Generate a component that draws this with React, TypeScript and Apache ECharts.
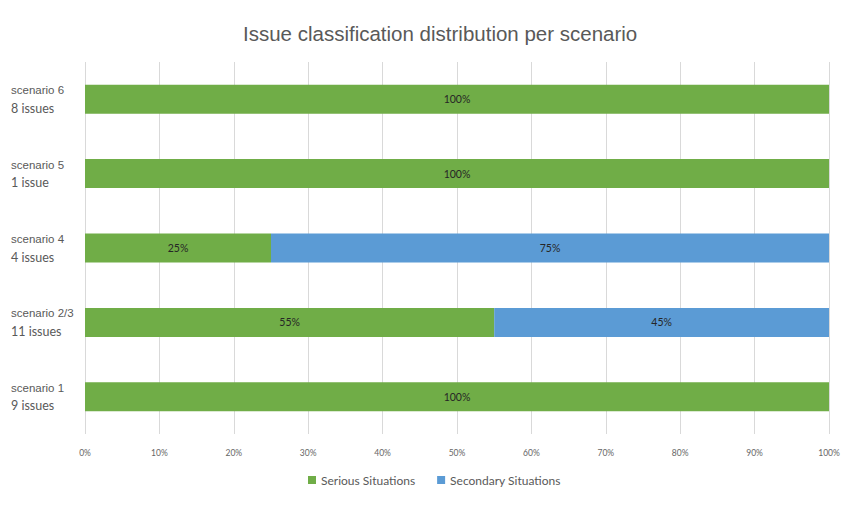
import { useEffect, useRef } from 'react'
import * as echarts from 'echarts'

const scenarios = ['scenario 1', 'scenario 2/3', 'scenario 4', 'scenario 5', 'scenario 6']
const issueCounts = ['9 issues', '11 issues', '4 issues', '1 issue', '8 issues']
const seriousPct = [100, 55, 25, 100, 100]
const secondaryPct = [0, 45, 75, 0, 0]
const seriesNames = ['Serious Situations', 'Secondary Situations']

const GREEN = '#70AD47'
const BLUE = '#5B9BD5'

export default function App() {
  const elRef = useRef<HTMLDivElement | null>(null)

  useEffect(() => {
    if (!elRef.current) return
    const chart = echarts.init(elRef.current, undefined, { renderer: 'svg' })

    const barLabel = {
      show: true,
      position: 'inside',
      color: '#262626',
      fontSize: 10.5,
      fontFamily: 'Lato, "Noto Sans", sans-serif',
      formatter: (p: any) => (p.value ? `${p.value}%` : ''),
    }

    chart.setOption({
      animation: false,
      title: {
        text: 'Issue classification distribution per scenario',
        left: 238,
        top: 18,
        textStyle: {
          color: '#595959',
          fontSize: 20.5,
          fontWeight: 'normal',
          fontFamily: '"Liberation Sans", Arial, sans-serif',
        },
      },
      legend: {
        data: seriesNames,
        bottom: 17,
        left: 303,
        icon: 'rect',
        itemWidth: 8,
        itemHeight: 8,
        itemGap: 22,
        textStyle: { color: '#595959', fontSize: 12, fontFamily: 'Lato, "Noto Sans", sans-serif' },
      },
      grid: { left: 85, right: 31, top: 62, bottom: 74 },
      xAxis: {
        type: 'value',
        min: 0,
        max: 100,
        interval: 10,
        axisLine: { show: false },
        axisTick: { show: false },
        splitLine: { lineStyle: { color: '#D9D9D9', width: 1 } },
        axisLabel: {
          formatter: '{value}%',
          color: '#666666',
          fontSize: 8.5,
          margin: 14,
          fontFamily: 'Lato, "Noto Sans", sans-serif',
        },
      },
      yAxis: {
        type: 'category',
        data: scenarios,
        axisLine: { show: false },
        axisTick: { show: false },
        axisLabel: {
          align: 'left',
          margin: 74,
          formatter: (v: string, i: number) => `{a|${v}}\n{b|${issueCounts[i]}}`,
          rich: {
            a: { color: '#595959', fontSize: 11.5, lineHeight: 18, fontFamily: '"Liberation Sans", Arial, sans-serif' },
            b: { color: '#595959', fontSize: 12.5, lineHeight: 18, fontFamily: 'Lato, "Noto Sans", sans-serif' },
          },
        },
      },
      series: [
        {
          name: seriesNames[0],
          type: 'bar',
          stack: 'total',
          barWidth: 29,
          data: seriousPct,
          itemStyle: { color: GREEN },
          label: barLabel,
        },
        {
          name: seriesNames[1],
          type: 'bar',
          stack: 'total',
          barWidth: 29,
          data: secondaryPct,
          itemStyle: { color: BLUE },
          label: barLabel,
        },
      ],
    })

    return () => {
      chart.dispose()
    }
  }, [])

  return (
    <div
      ref={elRef}
      style={{ position: 'fixed', left: 0, top: 0, width: 860, height: 508, background: '#fff' }}
    />
  )
}
